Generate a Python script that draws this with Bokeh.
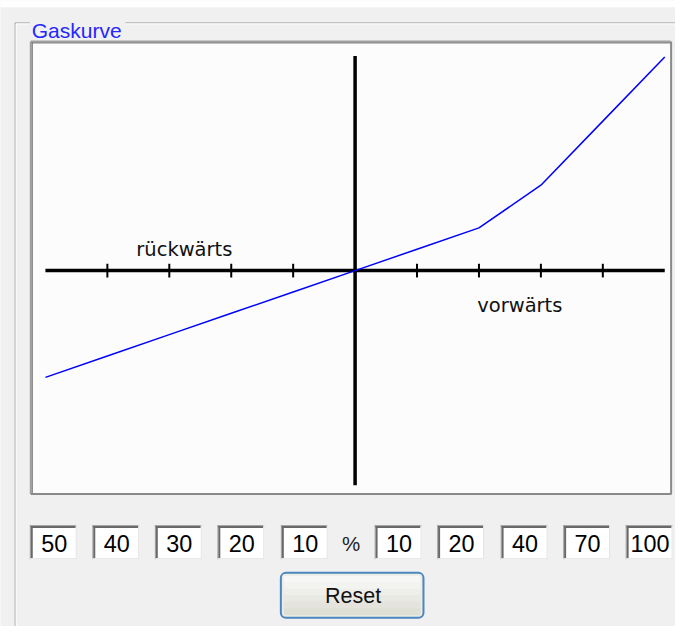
from bokeh.plotting import figure
from bokeh.models import Range1d
from bokeh.embed import file_html
from bokeh.resources import INLINE
from bokeh.core.properties import value

# ---------------- data ----------------
steps = [-5, -4, -3, -2, -1, 0, 1, 2, 3, 4, 5]
gas_percent = [-50, -40, -30, -20, -10, 0, 10, 20, 40, 70, 100]
tick_steps = [-4, -3, -2, -1, 1, 2, 3, 4]
back_labels = ["50", "40", "30", "20", "10"]
fwd_labels = ["10", "20", "40", "70", "100"]
title_text = "Gaskurve"
back_text = "rückwärts"
fwd_text = "vorwärts"
button_text = "Reset"
percent_text = "%"

# ---------------- layout (reference pixels) ----------------
W, H = 675, 626          # figure size
RW, RH = 691, 642        # reference frame shown inside the figure
X0, UX = 363.0, 63.4     # origin x, pixels per step
Y0, UY = 277.0, 2.19     # origin y, pixels per percent
FS = W / RW              # font scale


def dx(px):
    return (px - X0) / UX


def dy(py):
    return (Y0 - py) / UY


def fpx(size):
    return "%.1fpx" % (size * FS)


p = figure(width=W, height=H, output_backend="svg", toolbar_location=None,
           x_range=Range1d(dx(0), dx(RW)), y_range=Range1d(dy(RH), dy(0)),
           min_border=0, x_axis_type=None, y_axis_type=None)
p.grid.visible = False
p.outline_line_color = None
p.background_fill_color = "#f0f0f0"
p.border_fill_color = "#f0f0f0"


def quad_px(l, t, r, b, **kw):
    return p.quad(left=[dx(l)], right=[dx(r)], top=[dy(t)], bottom=[dy(b)], **kw)


def seg_px(x0, y0, x1, y1, **kw):
    return p.segment(x0=[dx(x0)], y0=[dy(y0)], x1=[dx(x1)], y1=[dy(y1)], **kw)


def text_px(x, y, t, **kw):
    return p.text(x=[dx(x)], y=[dy(y)], text=[t], **kw)


# ---- white strip at the very top (window above the group box) ----
quad_px(-5, -5, RW + 5, 7, fill_color="white", line_color=None)

# ---- group box (etched) ----
ETCH_D, ETCH_L = "#a0a0a0", "#ffffff"
seg_px(15, 23, 30, 23, line_color=ETCH_D, line_width=1)
seg_px(16, 24, 30, 24, line_color=ETCH_L, line_width=1)
seg_px(128, 23, 700, 23, line_color=ETCH_D, line_width=1)
seg_px(128, 24, 700, 24, line_color=ETCH_L, line_width=1)
seg_px(15, 23, 15, 700, line_color=ETCH_D, line_width=1)
seg_px(16, 24, 16, 700, line_color=ETCH_L, line_width=1)

text_px(32, 31, title_text, text_color="#2626ff", text_font=value("Liberation Sans"),
        text_font_size=fpx(21.5), text_baseline="alphabetic", text_align="left")

# ---- plot area box (sunken) ----
quad_px(31, 42, 686, 506, fill_color="#fcfcfc", line_color=None)
seg_px(31, 42, 686, 42, line_color="#a0a0a0", line_width=2)
seg_px(31, 42, 31, 506, line_color="#a0a0a0", line_width=2)
seg_px(32, 43.5, 686, 43.5, line_color="#696969", line_width=1)
seg_px(32.5, 43, 32.5, 506, line_color="#696969", line_width=1)
seg_px(31, 506, 687, 506, line_color="#8a8a8a", line_width=2)
seg_px(686.5, 42, 686.5, 506, line_color="#8a8a8a", line_width=2)

# ---- cross axes (data coordinates) ----
y_ext = max(abs(v) for v in gas_percent) + 0.5
p.segment(x0=[steps[0]], y0=[0], x1=[steps[-1]], y1=[0], line_color="black", line_width=3.5)
p.segment(x0=[0], y0=[-y_ext], x1=[0], y1=[y_ext], line_color="black", line_width=3.5)
tick_half = 7.0 / UY
p.segment(x0=tick_steps, y0=[-tick_half] * len(tick_steps), x1=tick_steps,
          y1=[tick_half] * len(tick_steps), line_color="black", line_width=2)

# ---- gas curve ----
p.line(steps, gas_percent, line_color="#0000ff", line_width=1.5)

# ---- direction labels ----
text_px(139, 255, back_text, text_color="#111111", text_font=value("DejaVu Sans"),
        text_font_size=fpx(20), text_baseline="alphabetic", text_align="left")
text_px(488, 313, fwd_text, text_color="#111111", text_font=value("DejaVu Sans"),
        text_font_size=fpx(20), text_baseline="alphabetic", text_align="left")

# ---- edit boxes ----
box_left_px = [30, 94, 158, 222, 287, 383, 447, 512, 576, 640]
BOX_W, BOX_T, BOX_B = 48, 538, 573
labels = back_labels + fwd_labels
for l, lab in zip(box_left_px, labels):
    r = l + BOX_W
    quad_px(l, BOX_T, r, BOX_B, fill_color="white", line_color=None)
    seg_px(l, BOX_T + 0.5, r, BOX_T + 0.5, line_color="#a0a0a0", line_width=1)
    seg_px(l + 0.5, BOX_T, l + 0.5, BOX_B, line_color="#a0a0a0", line_width=1)
    seg_px(l + 1, BOX_T + 2, r - 1, BOX_T + 2, line_color="#696969", line_width=2)
    seg_px(l + 2, BOX_T + 1, l + 2, BOX_B - 1, line_color="#696969", line_width=2)
    seg_px(l, BOX_B - 0.5, r, BOX_B - 0.5, line_color="#e3e3e3", line_width=1)
    seg_px(r - 0.5, BOX_T, r - 0.5, BOX_B, line_color="#e3e3e3", line_width=1)
    text_px(l + BOX_W / 2 + 1, 557, lab, text_color="black", text_font=value("Liberation Sans"),
            text_font_size=fpx(24), text_baseline="middle", text_align="center")

text_px(359, 557, percent_text, text_color="#222222", text_font=value("Liberation Sans"),
        text_font_size=fpx(21), text_baseline="middle", text_align="center")

# ---- Reset button ----
BL, BT, BR, BB = 287, 587, 433, 633
quad_px(BL, BT, BR, BB, fill_color="#ecece6", line_color="#4a86c0", line_width=2, border_radius=5)
shades = ["#f7f7f5", "#f3f3f0", "#eeeeea", "#e9e9e3", "#e4e4dc", "#dedfd5"]
n = len(shades)
h = (BB - BT - 6) / n
for i, c in enumerate(shades):
    quad_px(BL + 3, BT + 3 + i * h, BR - 3, BT + 3 + (i + 1) * h + 0.5, fill_color=c, line_color=None)
text_px(361, 611, button_text, text_color="#111111", text_font=value("Liberation Sans"),
        text_font_size=fpx(22), text_baseline="middle", text_align="center")

open("out.html", "w").write(file_html(p, INLINE))
